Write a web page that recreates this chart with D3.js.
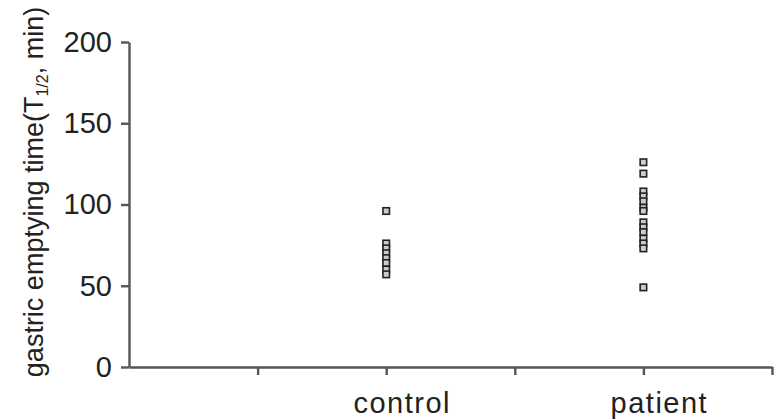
<!DOCTYPE html>
<html>
<head>
<meta charset="utf-8">
<script src="https://cdn.jsdelivr.net/npm/d3@7/dist/d3.min.js"></script>
<style>
  body { margin: 0; background: #fff; }
  svg text { font-family: "Liberation Sans", Arial, Helvetica, sans-serif; fill: #222; }
  .axis path, .axis line { stroke: #555; stroke-width: 2.4; }
</style>
</head>
<body>
<div id="chart"></div>
<script>
// groups and their place on the x axis
var groups = ["control", "patient"];
var groupPos = [2, 4];

// T1/2 values (min)
var controlVals = [96, 76, 73, 70, 67, 64, 60, 57];
var patientVals = [126, 119, 108, 105, 102, 98, 96, 89, 86, 83, 79, 76, 73, 49];

var yTicks = [0, 50, 100, 150, 200];
var xTicks = [1, 2, 3, 4, 5];

var width = 779;
var height = 419;

var svg = d3.select("#chart")
  .append("svg")
  .attr("width", width)
  .attr("height", height);

// scales
var xscale = d3.scaleLinear().domain([0, 5]).range([129, 772]);
var yscale = d3.scaleLinear().domain([0, 200]).range([367, 42]);

// y axis
var yAxis = d3.axisLeft(yscale)
  .tickValues(yTicks)
  .tickSize(8)
  .tickSizeOuter(0)
  .tickPadding(9);

svg.append("g")
  .attr("class", "axis")
  .attr("transform", "translate(" + xscale(0) + ",0)")
  .call(yAxis)
  .selectAll("text")
  .attr("font-size", 29)
  .attr("fill", "#222");

// x axis, no labels on the ticks
var xAxis = d3.axisBottom(xscale)
  .tickValues(xTicks)
  .tickSize(8)
  .tickSizeOuter(0)
  .tickFormat("");

svg.append("g")
  .attr("class", "axis")
  .attr("transform", "translate(0," + yscale(0) + ")")
  .call(xAxis);

// group names sit a bit right of their tick
svg.selectAll("text.grp")
  .data(groups)
  .enter()
  .append("text")
  .attr("class", "grp")
  .attr("x", function(d, i) { return xscale(groupPos[i]) + 16; })
  .attr("y", 413)
  .attr("text-anchor", "middle")
  .attr("font-size", 29)
  .attr("letter-spacing", 1.5)
  .text(function(d) { return d; });

// y title
var ytitle = svg.append("text")
  .attr("transform", "translate(43,192)rotate(-90)")
  .attr("text-anchor", "middle")
  .attr("font-size", 27);
ytitle.append("tspan").text("gastric emptying time(T");
ytitle.append("tspan").attr("font-size", 16).attr("dy", 5).text("1/2");
ytitle.append("tspan").attr("dy", -5).text(", min)");

// points
var pts = [];
controlVals.forEach(function(v) { pts.push({ x: groupPos[0], y: v }); });
patientVals.forEach(function(v) { pts.push({ x: groupPos[1], y: v }); });

var s = 6.5;
svg.selectAll("rect.pt")
  .data(pts)
  .enter()
  .append("rect")
  .attr("class", "pt")
  .attr("x", function(d) { return xscale(d.x) - s / 2; })
  .attr("y", function(d) { return yscale(d.y) - s / 2; })
  .attr("width", s)
  .attr("height", s)
  .attr("fill", "#ccc")
  .attr("stroke", "#222")
  .attr("stroke-width", 1.6);
</script>
</body>
</html>
